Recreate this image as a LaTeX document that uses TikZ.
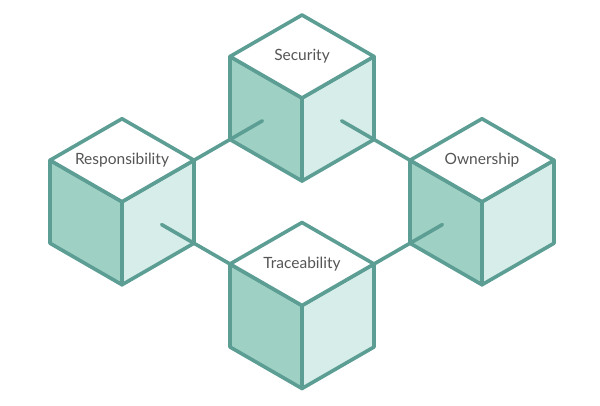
\documentclass[tikz,border=0pt]{standalone}
\usepackage{fontspec}
\setmainfont{Lato}
\usetikzlibrary{calc}
\definecolor{edgeteal}{RGB}{92,158,148}
\definecolor{darkface}{RGB}{158,208,196}
\definecolor{lightface}{RGB}{214,237,233}
\definecolor{labelgray}{RGB}{85,85,85}

\begin{document}
\begin{tikzpicture}[
    x=1pt, y=-1pt,
    face/.style={draw=edgeteal, line width=3.6pt, line join=round},
    leftface/.style={face, fill=darkface},
    rightface/.style={face, fill=lightface},
    topface/.style={face, fill=white},
    cubelabel/.style={font=\fontsize{15.5}{18}\selectfont, text=labelgray,
      inner sep=0pt},
    link/.style={draw=edgeteal, line width=3.6pt, line cap=round},
  ]
  \useasboundingbox (0,0) rectangle (600,406);

  % --- Cubes (front top vertex, label) ---
  \foreach \name/\cx/\cy/\txt in {sec/302/98/Security,
                                   resp/122/201.75/Responsibility,
                                   own/482/201.75/Ownership,
                                   trace/302/305.5/Traceability} {
    \coordinate (\name-f) at (\cx,\cy);
    \coordinate (\name-t) at (\cx,\cy-83);
    \coordinate (\name-l) at (\cx-72,\cy-41.5);
    \coordinate (\name-r) at (\cx+72,\cy-41.5);
    \coordinate (\name-bl) at (\cx-72,\cy+41.5);
    \coordinate (\name-br) at (\cx+72,\cy+41.5);
    \coordinate (\name-b) at (\cx,\cy+83);
    \filldraw[leftface] (\name-l) -- (\name-f) -- (\name-b) -- (\name-bl) -- cycle;
    \filldraw[rightface] (\name-f) -- (\name-r) -- (\name-br) -- (\name-b) -- cycle;
    \filldraw[topface] (\name-t) -- (\name-r) -- (\name-f) -- (\name-l) -- cycle;
    \node[cubelabel] (\name) at ($(\name-t)!0.5!(\name-f)$) {\txt};
  }

  % --- Links between cubes ---
  \coordinate (secin-l) at ($(resp-r)!1.9!(sec-bl)$);
  \coordinate (secin-r) at ($(own-l)!1.9!(sec-br)$);
  \coordinate (respin) at ($(trace-l)!1.9!(resp-br)$);
  \coordinate (ownin) at ($(trace-r)!1.9!(own-bl)$);
  \draw[link] (resp-r) -- (secin-l);
  \draw[link] (own-l) -- (secin-r);
  \draw[link] (trace-l) -- (respin);
  \draw[link] (trace-r) -- (ownin);

\end{tikzpicture}
\end{document}
